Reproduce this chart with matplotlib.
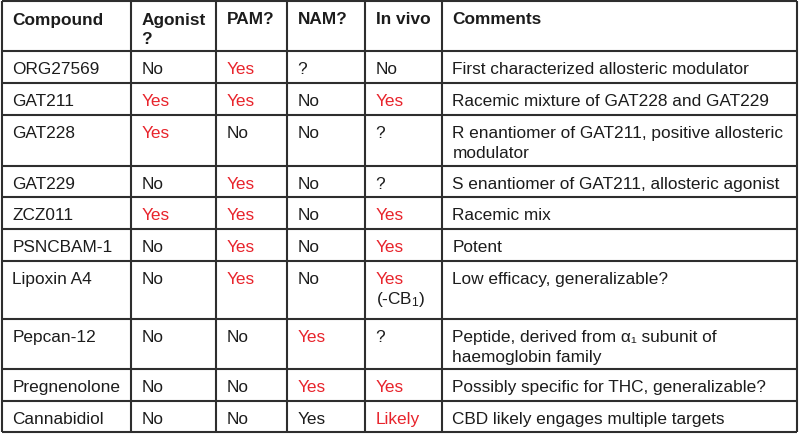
import matplotlib
matplotlib.use("Agg")
import matplotlib.pyplot as plt

plt.rcParams['font.family'] = ['Liberation Sans', 'DejaVu Sans']
plt.rcParams['mathtext.fontset'] = 'custom'
plt.rcParams['mathtext.rm'] = 'Liberation Sans'
plt.rcParams['mathtext.it'] = 'Liberation Sans'

headers = ["Compound", "Agonist\n?", "PAM?", "NAM?", "In vivo", "Comments"]
compounds = ["ORG27569", "GAT211", "GAT228", "GAT229", "ZCZ011", "PSNCBAM-1",
             "Lipoxin A4", "Pepcan-12", "Pregnenolone", "Cannabidiol"]
agonist = ["No", "Yes", "Yes", "No", "Yes", "No", "No", "No", "No", "No"]
pam = ["Yes", "Yes", "No", "Yes", "Yes", "Yes", "Yes", "No", "No", "No"]
nam = ["?", "No", "No", "No", "No", "No", "No", "Yes", "Yes", "Yes"]
invivo = ["No", "Yes", "?", "?", "Yes", "Yes", "Yes\n(-CB$_{1}$)", "?", "Yes", "Likely"]
comments = [
    "First characterized allosteric modulator",
    "Racemic mixture of GAT228 and GAT229",
    "R enantiomer of GAT211, positive allosteric\nmodulator",
    "S enantiomer of GAT211, allosteric agonist",
    "Racemic mix",
    "Potent",
    "Low efficacy, generalizable?",
    "Peptide, derived from \u03b1\u2081 subunit of\nhaemoglobin family",
    "Possibly specific for THC, generalizable?",
    "CBD likely engages multiple targets",
]
# first-line highlight (red) flags per column: agonist, pam, nam, invivo
red_agonist = [False, True, True, False, True, False, False, False, False, False]
red_pam = [True, True, False, True, True, True, True, False, False, False]
red_nam = [False, False, False, False, False, False, False, True, True, False]
red_invivo = [False, True, False, False, True, True, True, False, True, True]

# layout
col_x = [2, 131, 216, 287, 365, 442, 797]
row_y = [2, 52, 84, 116, 167, 198, 230, 262, 320, 370, 402, 433]

RED = "#e8242c"
BLACK = "#1c1c1c"
LINE = "#2e2e2e"
FS = 12.4
PAD_X = 10.5
BASE = 22.5
LSP = 19.5

fig = plt.figure(figsize=(8, 4.35), dpi=100)
ax = fig.add_axes([0, 0, 1, 1])
ax.set_xlim(0, 800)
ax.set_ylim(435, 0)
ax.axis('off')

ax.hlines(row_y, col_x[0], col_x[-1], colors=LINE, linewidth=1.5)
ax.vlines(col_x, row_y[0], row_y[-1], colors=LINE, linewidth=1.5)


def cell(ci, ri, text, color=BLACK, bold=False, first_color=None):
    lines = text.split("\n")
    for k, ln in enumerate(lines):
        c = first_color if (k == 0 and first_color) else color
        ax.text(col_x[ci] + PAD_X, row_y[ri] + BASE + k * LSP, ln,
                fontsize=FS, color=c, va='baseline', ha='left',
                fontweight='bold' if bold else 'normal')


for ci, h in enumerate(headers):
    cell(ci, 0, h, bold=True)

cols = [agonist, pam, nam, invivo]
reds = [red_agonist, red_pam, red_nam, red_invivo]
for i in range(len(compounds)):
    ri = i + 1
    cell(0, ri, compounds[i])
    for j, (vals, rflags) in enumerate(zip(cols, reds)):
        cell(j + 1, ri, vals[i], first_color=RED if rflags[i] else None)
    cell(5, ri, comments[i])

fig.savefig("out.png", dpi=100)
